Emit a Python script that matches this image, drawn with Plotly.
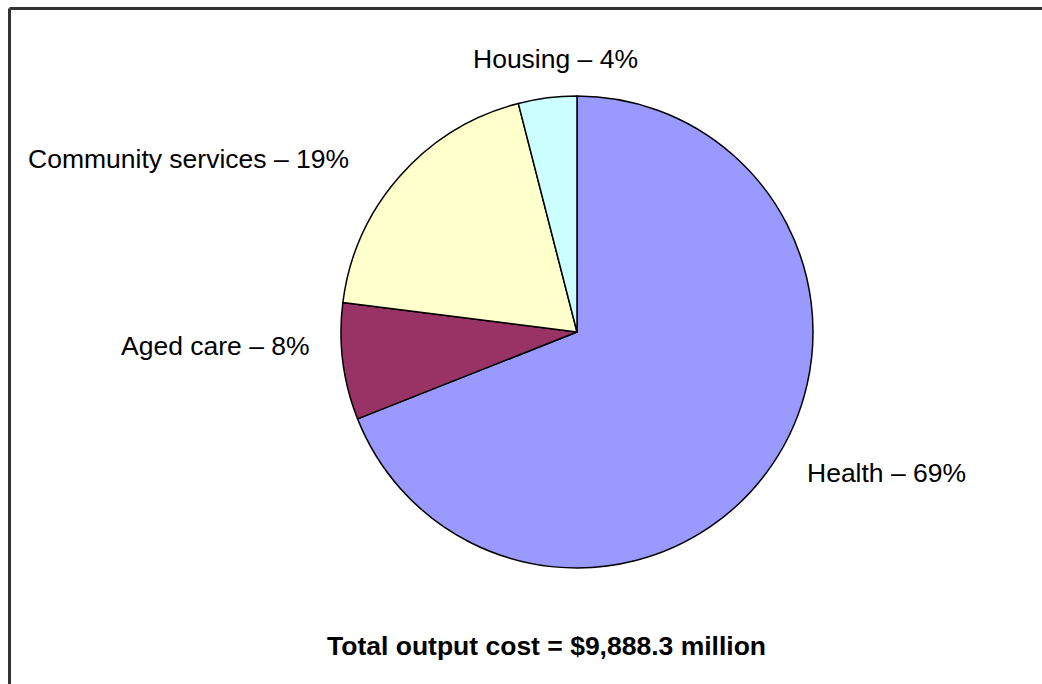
import plotly.graph_objects as go

# Share of total output cost by service area (per cent)
categories = ["Health", "Aged care", "Community services", "Housing"]
shares = [69, 8, 19, 4]
colors = ["#9999FF", "#993366", "#FFFFCC", "#CCFFFF"]
total_cost = "$9,888.3"

W, H = 1042, 684
FONT = "Liberation Sans, Arial, sans-serif"

fig = go.Figure(
    go.Pie(
        labels=categories,
        values=shares,
        sort=False,
        direction="clockwise",
        rotation=0,
        marker=dict(colors=colors, line=dict(color="black", width=1.5)),
        textinfo="none",
        hoverinfo="label+percent",
        showlegend=False,
        domain=dict(x=[341 / W, 813 / W], y=[1 - 568 / H, 1 - 96 / H]),
    )
)

# Slice labels placed around the pie (pixel centres converted to paper units)
label_pos = {
    "Health": (886, 473),
    "Aged care": (215, 346),
    "Community services": (188, 159),
    "Housing": (555, 59),
}
for cat, val in zip(categories, shares):
    px, py = label_pos[cat]
    fig.add_annotation(
        x=px / W, y=1 - py / H, xref="paper", yref="paper",
        text=f"{cat} \u2013 {val}%", showarrow=False,
        xanchor="center", yanchor="middle",
        font=dict(family=FONT, size=26.5, color="black"),
    )

fig.add_annotation(
    x=546.5 / W, y=1 - 646 / H, xref="paper", yref="paper",
    text=f"<b>Total output cost = {total_cost} million</b>", showarrow=False,
    xanchor="center", yanchor="middle",
    font=dict(family=FONT, size=26.5, color="black"),
)

# Frame: top and left edges
fig.add_shape(type="line", xref="paper", yref="paper",
              x0=9.5 / W, x1=1, y0=1 - 8.5 / H, y1=1 - 8.5 / H,
              line=dict(color="#333333", width=3))
fig.add_shape(type="line", xref="paper", yref="paper",
              x0=9.5 / W, x1=9.5 / W, y0=0, y1=1 - 8.5 / H,
              line=dict(color="#333333", width=3))

fig.update_layout(
    width=W, height=H,
    margin=dict(l=0, r=0, t=0, b=0),
    paper_bgcolor="white", plot_bgcolor="white",
)

fig.write_html("out.html")
